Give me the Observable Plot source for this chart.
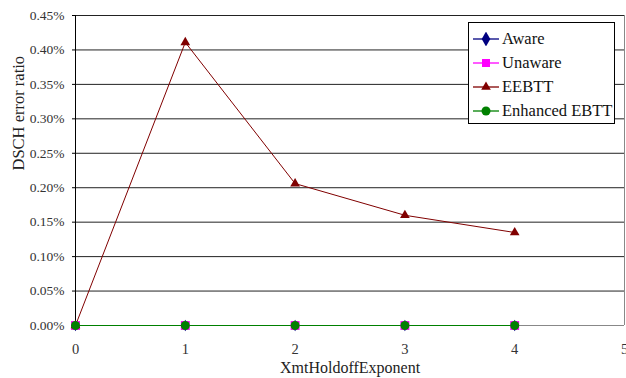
<!DOCTYPE html>
<html>
<head>
<meta charset="utf-8">
<script src="https://cdn.jsdelivr.net/npm/d3@7"></script>
<script src="https://cdn.jsdelivr.net/npm/@observablehq/plot@0.6"></script>
<style>
  body { margin: 0; background: #fff; font-family: "Liberation Serif", serif; }
  #wrap { position: relative; width: 626px; height: 378px; font-family: "Liberation Serif", serif; }
  #wrap svg { font-family: "Liberation Serif", serif !important; }
  #legend { position: absolute; left: 468px; top: 22px; width: 145px; height: 100px; border: 1px solid #000; background: #fff; padding: 0; }
  .item { position: absolute; left: 4px; height: 20px; display: flex; align-items: center; font-size: 16.5px; color: #111; white-space: nowrap; font-family: "Liberation Serif", serif; }
  .item svg { margin-right: 3px; }
</style>
</head>
<body>
<div id="wrap"></div>
<script>
const xValues = [0, 1, 2, 3, 4];
const seriesNames = ["Aware", "Unaware", "EEBTT", "Enhanced EBTT"];
const aware = [0, 0, 0, 0, 0];
const unaware = [0, 0, 0, 0, 0];
const eebtt = [0, 0.411, 0.206, 0.160, 0.135];
const enhanced = [0, 0, 0, 0, 0];
const yTicks = [0, 0.05, 0.10, 0.15, 0.20, 0.25, 0.30, 0.35, 0.40, 0.45];
const xTicks = [0, 1, 2, 3, 4, 5];
const colors = ["#000080", "#ff00ff", "#800000", "#008000"];
const symbols = ["diamond", "square", "triangle", "circle"];
const radii = [3.5, 5, 3.6, 4.5];

const allSeries = [aware, unaware, eebtt, enhanced];
const data = [];
allSeries.forEach((vals, i) => vals.forEach((v, j) => data.push({series: seriesNames[i], x: xValues[j], y: v})));

const marks = [
  Plot.ruleY(yTicks.filter(d => d > 0), {stroke: "#222", strokeWidth: 1}),
  Plot.ruleY([0], {stroke: "#888"}),
  Plot.ruleX([5], {stroke: "#888"}),
  Plot.ruleX([0], {stroke: "#000"}),
  Plot.axisY({ticks: yTicks, tickSize: 3, tickPadding: 8, tickFormat: d => d.toFixed(2) + "%", label: null, fontSize: 13.5, fill: "#333"}),
  Plot.axisX({ticks: xTicks, tickSize: 0, tickPadding: 18, tickFormat: d => String(d), label: null, fontSize: 14.5, fill: "#333"}),
  Plot.text(["XmtHoldoffExponent"], {frameAnchor: "bottom", dy: 42, lineAnchor: "middle", fontSize: 16, fill: "#222"}),
  Plot.text(["DSCH error ratio"], {frameAnchor: "left", dx: -57, rotate: -90, lineAnchor: "middle", fontSize: 16.5, fill: "#222"})
];
seriesNames.forEach((name, i) => {
  const d = data.filter(r => r.series === name);
  marks.push(Plot.line(d, {x: "x", y: "y", stroke: colors[i], strokeWidth: 1}));
});
seriesNames.forEach((name, i) => {
  const d = data.filter(r => r.series === name);
  marks.push(Plot.dot(d, {x: "x", y: "y", symbol: () => symbols[i], r: radii[i], fill: colors[i], stroke: "none"}));
});

const chart = Plot.plot({
  width: 626,
  height: 378,
  marginLeft: 75,
  marginRight: 2,
  marginTop: 15,
  marginBottom: 53,
  style: {fontFamily: "'Liberation Serif', serif", fontSize: "14px", background: "#fff", overflow: "visible"},
  x: {domain: [0, 5]},
  y: {domain: [0, 0.45]},
  symbol: {type: "identity"},
  marks
});
chart.setAttribute("font-family", "'Liberation Serif', serif");
const wrap = document.getElementById("wrap");
wrap.appendChild(chart);

// legend
const legend = document.createElement("div");
legend.id = "legend";
const tops = [6, 30, 54, 78];
seriesNames.forEach((name, i) => {
  const item = document.createElement("div");
  item.className = "item";
  item.style.top = tops[i] + "px";
  const sym = d3.symbol().type({diamond: d3.symbolDiamond, square: d3.symbolSquare, triangle: d3.symbolTriangle, circle: d3.symbolCircle}[symbols[i]]).size(symbols[i] === "triangle" ? 40 : 64)();
  item.innerHTML = `<svg width="26" height="14"><line x1="0" x2="26" y1="7" y2="7" stroke="${colors[i]}" stroke-width="1.3"/><path d="${sym}" transform="translate(13,7)" fill="${colors[i]}"/></svg><span>${name}</span>`;
  legend.appendChild(item);
});
wrap.appendChild(legend);
</script>
</body>
</html>
